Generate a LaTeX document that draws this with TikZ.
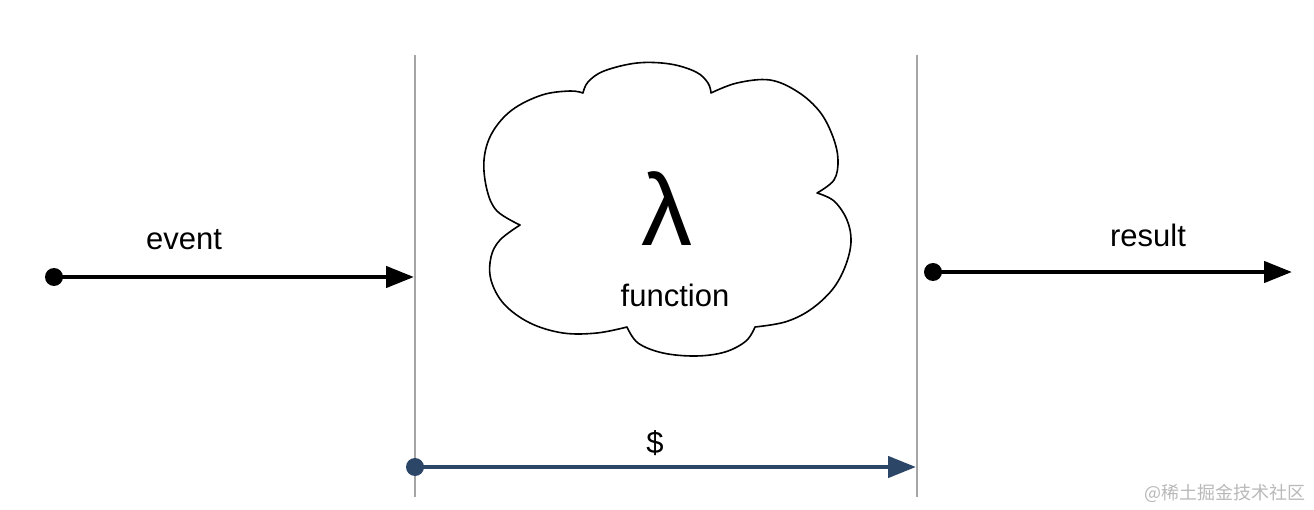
\documentclass[tikz,border=0pt]{standalone}
\usepackage{fontspec}
\setmainfont{Liberation Sans}
\newfontfamily\cjk{Noto Sans CJK SC}
\usetikzlibrary{arrows.meta}
\definecolor{navy}{RGB}{44,70,104}
\definecolor{vline}{RGB}{165,165,165}
\definecolor{wmgray}{RGB}{185,185,185}
\begin{document}
\begin{tikzpicture}[x=1pt,y=-1pt,
  lbl/.style={font=\fontsize{31}{36}\selectfont, anchor=base, inner sep=0pt},
  startdot/.style={circle, fill=#1, inner sep=0pt, minimum size=18pt},
  flow/.style={line width=4.5pt, -{Triangle[length=28pt,width=21pt]}},
  guide/.style={draw=vline, line width=1.3pt},
  cloudline/.style={draw=black, fill=white, line width=1.6pt, line join=round},
  lobe/.style={smooth, tension=0.6}]
\useasboundingbox[fill=white] (0,0) rectangle (1314,510);

% vertical guide lines
\coordinate (g1t) at (415,55);
\coordinate (g1b) at (415,497);
\coordinate (g2t) at (917,55);
\coordinate (g2b) at (917,497);
\draw[guide] (g1t) -- (g1b);
\draw[guide] (g2t) -- (g2b);

% cloud
\draw[cloudline] (583,93)
  -- plot[lobe] coordinates {(583,93) (588,82) (604,71) (637,63) (670,64) (696,72) (708,83) (711,93)}
  -- plot[lobe] coordinates {(711,93) (737,83) (770,80) (798,92) (820,112) (833,137) (838,160) (834,180) (817,193)}
  -- plot[lobe] coordinates {(817,193) (834,201) (847,220) (851,242) (845,267) (832,290) (810,310) (785,322) (755,327)}
  -- plot[lobe] coordinates {(755,327) (746,341) (725,352) (696,356) (663,353) (638,343) (627,327)}
  -- plot[lobe] coordinates {(627,327) (597,333) (563,333) (530,323) (504,304) (491,280) (491,257) (500,240) (520,225)}
  -- plot[lobe] coordinates {(520,225) (497,211) (487,190) (484,160) (492,133) (512,110) (542,95) (570,91) (583,93)}
  -- cycle;
\node[font=\fontsize{102}{110}\selectfont, anchor=base, inner sep=0pt] (lam) at (667,246) {λ};
\node[lbl] (fn) at (675,307) {function};

% event arrow
\node[startdot=black] (evs) at (54,277) {};
\coordinate (eve) at (414,277);
\draw[flow] (evs.center) -- (eve);
\node[lbl] (evl) at (184,250) {event};

% result arrow
\node[startdot=black] (rss) at (933,272) {};
\coordinate (rse) at (1292,272);
\draw[flow] (rss.center) -- (rse);
\node[lbl] (rsl) at (1148,247) {result};

% cost arrow
\node[startdot=navy] (cs) at (415,467) {};
\coordinate (ce) at (916,467);
\draw[flow, draw=navy, fill=navy] (cs.center) -- (ce);
\node[lbl] (cl) at (655,453) {\$};

% watermark
\node[font=\cjk\fontsize{18}{20}\selectfont, text=wmgray, anchor=base east, inner sep=0pt] (wm) at (1306,499) {@稀土掘金技术社区};
\end{tikzpicture}
\end{document}
